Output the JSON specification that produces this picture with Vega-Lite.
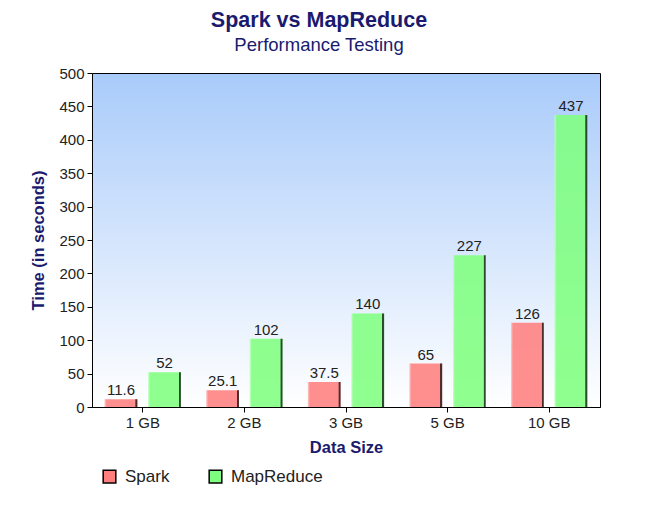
{
  "$schema": "https://vega.github.io/schema/vega-lite/v6.json",
  "autosize": "none",
  "width": 508,
  "height": 334,
  "padding": {"left": 92, "top": 73, "right": 48, "bottom": 109},
  "background": "white",
  "title": {
    "text": "Spark vs MapReduce",
    "subtitle": "Performance Testing",
    "anchor": "middle",
    "dx": -27,
    "offset": 12,
    "font": "Liberation Sans",
    "fontSize": 21.5,
    "fontWeight": "bold",
    "color": "#1a1a6e",
    "subtitleFont": "Liberation Sans",
    "subtitleFontSize": 18.5,
    "subtitleColor": "#1a1a6e",
    "subtitlePadding": 4
  },
  "data": {
    "values": [
      {"size": "1 GB", "series": "Spark", "time": 11.6},
      {"size": "1 GB", "series": "MapReduce", "time": 52},
      {"size": "2 GB", "series": "Spark", "time": 25.1},
      {"size": "2 GB", "series": "MapReduce", "time": 102},
      {"size": "3 GB", "series": "Spark", "time": 37.5},
      {"size": "3 GB", "series": "MapReduce", "time": 140},
      {"size": "5 GB", "series": "Spark", "time": 65},
      {"size": "5 GB", "series": "MapReduce", "time": 227},
      {"size": "10 GB", "series": "Spark", "time": 126},
      {"size": "10 GB", "series": "MapReduce", "time": 437}
    ]
  },
  "encoding": {
    "x": {
      "field": "size",
      "type": "nominal",
      "sort": ["1 GB", "2 GB", "3 GB", "5 GB", "10 GB"],
      "scale": {"paddingInner": 0.25, "paddingOuter": 0.125},
      "axis": {"title": "Data Size", "labelAngle": 0, "titlePadding": 9}
    },
    "xOffset": {
      "field": "series",
      "type": "nominal",
      "sort": ["Spark", "MapReduce"],
      "scale": {"paddingInner": 0.25}
    },
    "y": {
      "field": "time",
      "type": "quantitative",
      "scale": {"domain": [0, 500], "nice": false},
      "axis": {"title": "Time (in seconds)", "values": [0, 50, 100, 150, 200, 250, 300, 350, 400, 450, 500], "grid": false, "titlePadding": 12}
    }
  },
  "layer": [
    {
      "mark": {"type": "bar", "opacity": 0.88},
      "encoding": {
        "color": {
          "field": "series",
          "type": "nominal",
          "scale": {"domain": ["Spark", "MapReduce"], "range": ["#ff7f7f", "#7fff7f"]},
          "legend": {
            "title": null,
            "orient": "none",
            "legendX": 9,
            "legendY": 395,
            "direction": "horizontal",
            "symbolType": "square",
            "symbolSize": 160,
            "symbolStrokeColor": "black",
            "symbolStrokeWidth": 1.5,
            "symbolOpacity": 1,
            "labelFont": "Liberation Sans",
            "labelFontSize": 17,
            "labelColor": "#222222",
            "labelOffset": 7,
            "columnPadding": 36
          }
        }
      }
    },
    {
      "mark": {
        "type": "bar",
        "fill": {
          "gradient": "linear",
          "x1": 0, "y1": 0, "x2": 1, "y2": 0,
          "stops": [
            {"offset": 0, "color": "rgba(255,255,255,0.5)"},
            {"offset": 0.06, "color": "rgba(255,255,255,0)"},
            {"offset": 0.93, "color": "rgba(0,0,0,0)"},
            {"offset": 0.95, "color": "rgba(0,0,0,0.7)"},
            {"offset": 1, "color": "rgba(0,0,0,0.7)"}
          ]
        }
      }
    },
    {
      "mark": {"type": "text", "dy": -9, "font": "Liberation Sans", "fontSize": 15, "color": "#222222"},
      "encoding": {"text": {"field": "time", "type": "quantitative"}}
    }
  ],
  "config": {
    "view": {
      "stroke": "black",
      "strokeWidth": 1,
      "fill": {
        "gradient": "linear",
        "x1": 0, "y1": 0, "x2": 0, "y2": 1,
        "stops": [
          {"offset": 0, "color": "#a9cbfa"},
          {"offset": 1, "color": "#ffffff"}
        ]
      }
    },
    "axis": {
      "domainColor": "black",
      "tickColor": "black",
      "tickSize": 5,
      "labelFont": "Liberation Sans",
      "labelFontSize": 15,
      "labelColor": "#222222",
      "labelPadding": 3,
      "titleFont": "Liberation Sans",
      "titleFontSize": 16.5,
      "titleFontWeight": "bold",
      "titleColor": "#1a1a6e"
    }
  }
}
